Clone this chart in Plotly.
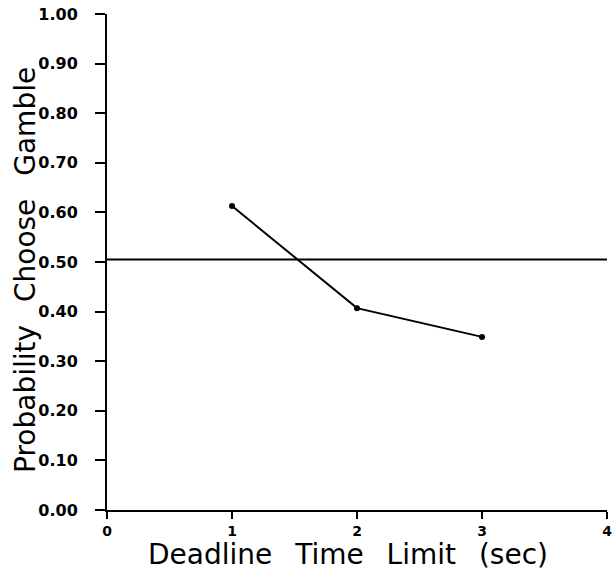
import plotly.graph_objects as go

deadlines = [1, 2, 3]
prob_gamble = [0.613, 0.407, 0.349]
ref_x = [0, 4]
ref_y = [0.505, 0.505]
y_ticks = [0.0, 0.1, 0.2, 0.3, 0.4, 0.5, 0.6, 0.7, 0.8, 0.9, 1.0]
y_tick_text = ["0.00", "0.10", "0.20", "0.30", "0.40", "0.50", "0.60", "0.70", "0.80", "0.90", "1.00"]
x_ticks = [0, 1, 2, 3, 4]
gap = "\u2002\u00a0"
x_title = gap.join(["Deadline", "Time", "Limit", "(sec)"])
y_title = gap.join(["Probability", "Choose", "Gamble"])

fig = go.Figure()
fig.add_trace(go.Scatter(x=ref_x, y=ref_y, mode="lines",
                         line=dict(color="black", width=2), showlegend=False))
fig.add_trace(go.Scatter(x=deadlines, y=prob_gamble, mode="lines+markers",
                         line=dict(color="black", width=2),
                         marker=dict(color="black", size=6), showlegend=False))

fig.update_layout(
    width=615, height=571,
    margin=dict(l=107, r=8, t=14, b=61),
    paper_bgcolor="white", plot_bgcolor="white",
    xaxis=dict(range=[0, 4], tickvals=x_ticks, showgrid=False, zeroline=False,
               showline=True, linecolor="black", linewidth=2, automargin=False,
               ticks="outside", ticklen=7, tickwidth=2, tickcolor="black",
               tickfont=dict(family="DejaVu Sans", size=14, color="black", weight="bold")),
    yaxis=dict(range=[0, 1], tickvals=y_ticks, ticktext=y_tick_text, showgrid=False, zeroline=False,
               showline=True, linecolor="black", linewidth=2, automargin=False,
               ticks="outside", ticklen=10, tickwidth=2, tickcolor="black",
               ticklabelstandoff=14,
               tickfont=dict(family="DejaVu Sans", size=16, color="black", weight="bold")),
    annotations=[
        dict(text=x_title, xref="paper", yref="paper", x=0.481, y=-0.09,
             xanchor="center", yanchor="middle", showarrow=False,
             font=dict(family="DejaVu Sans", size=28, color="black")),
        dict(text=y_title, xref="paper", yref="paper", x=-0.162, y=0.484,
             xanchor="center", yanchor="middle", textangle=-90, showarrow=False,
             font=dict(family="DejaVu Sans", size=28, color="black")),
    ],
)

fig.write_html("out.html", config={"displayModeBar": False},
               post_script="document.body.style.margin='0';document.body.style.overflow='hidden';")
